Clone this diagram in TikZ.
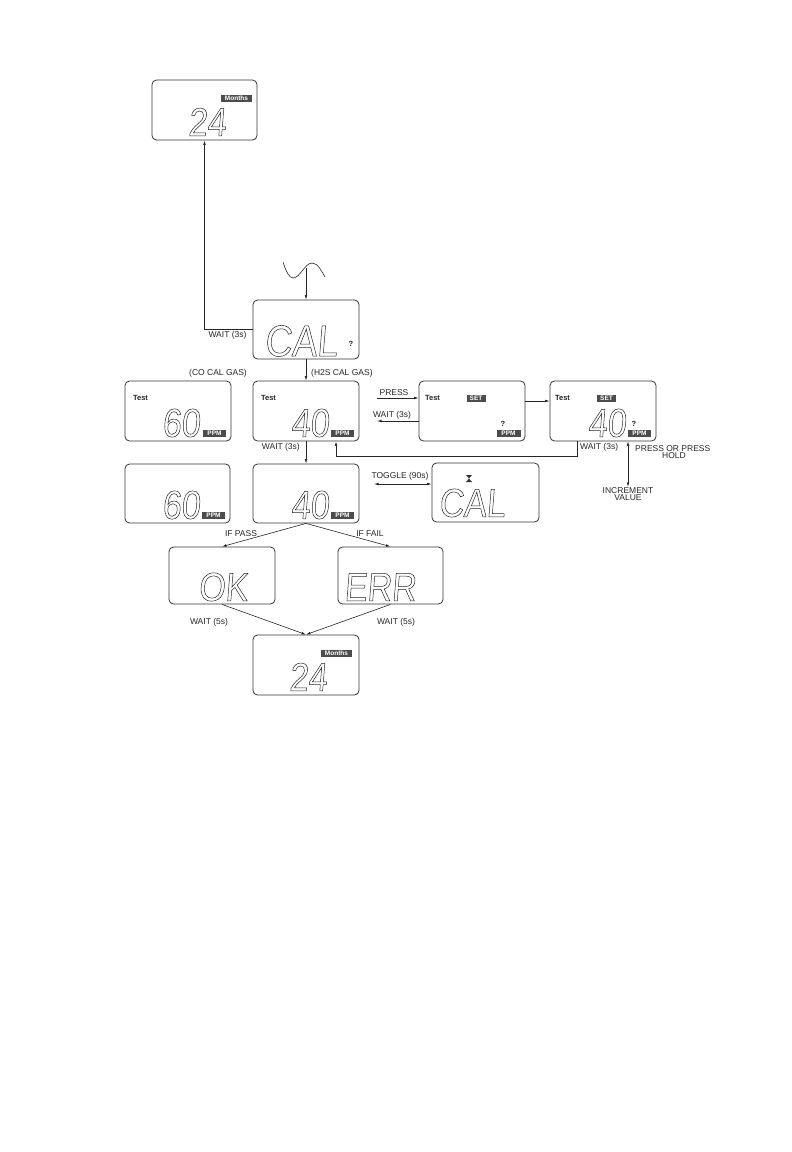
\documentclass[tikz,border=0pt]{standalone}
\usepackage{fontspec}
\setmainfont{Liberation Sans}
\newfontfamily\segfont[FakeSlant=0.08,FakeStretch=0.85]{Liberation Sans}
\usetikzlibrary{arrows.meta}
\newcommand\segout[1]{\special{pdf:literal direct 1 Tr 0.5 w}#1\special{pdf:literal direct 0 Tr}}
\begin{document}
\begin{tikzpicture}[x=1pt,y=-1pt,
  lcd/.style={draw=black!80, line width=0.8pt, rounded corners=4.5pt, inner sep=0pt, minimum width=106pt, minimum height=59pt},
  conn/.style={draw=black!85, line width=0.6pt},
  arr/.style={conn, -{Latex[length=4.5pt,width=2.6pt]}},
  darr/.style={conn, {Latex[length=4.5pt,width=2.6pt]}-{Latex[length=4.5pt,width=2.6pt]}},
  lab/.style={inner sep=0pt, text=black!85, font=\fontsize{8.5}{8}\selectfont},
  seg/.style={inner sep=0pt, text=black!85, font=\segfont\fontsize{40}{40}\selectfont},
  tag/.style={fill=black!70, text=white, inner sep=0pt, minimum height=7pt, font=\bfseries\fontsize{6.5}{6.5}\selectfont},
  tst/.style={inner sep=0pt, text=black!85, font=\bfseries\fontsize{7.5}{7.5}\selectfont},
  qm/.style={inner sep=0pt, text=black!85, font=\bfseries\fontsize{7.5}{7.5}\selectfont}]
\useasboundingbox (0,0) rectangle (792,1152);

% ---------- boxes ----------
\node[lcd, minimum width=105pt, minimum height=60pt] (top24) at (204.5,110) {};
\node[lcd] (cal)   at (306,329.5) {};
\node[lcd, minimum height=60pt] (co60)  at (178,411) {};
\node[lcd, minimum height=60pt] (h40)   at (306,411) {};
\node[lcd, minimum height=60pt] (set1)  at (472,411) {};
\node[lcd, minimum height=60pt] (set2)  at (603,411) {};
\node[lcd, minimum width=105pt] (co60b) at (177.5,493.5) {};
\node[lcd] (h40b)  at (306,493.5) {};
\node[lcd, minimum width=107pt] (calt)  at (485.5,492.5) {};
\node[lcd, minimum height=57pt] (ok)    at (222,575.5) {};
\node[lcd, minimum width=105pt, minimum height=57pt] (err) at (390.5,575.5) {};
\node[lcd, minimum height=60pt] (bot24) at (306,665) {};

% ---------- box contents ----------
\node[tag, minimum width=31pt] (mo1) at (236.5,98.5) {Months};
\node[seg] (d24a) at (207,122) {\segout{24}};

\node[seg, font=\segfont\fontsize{44}{44}\selectfont] (dcal) at (301,341) {\segout{CAL}};
\node[qm] (q1) at (351,344) {?};

\node[tst] (t1) at (140.5,398) {Test};
\node[seg] (d60a) at (181,423) {\segout{60}};
\node[tag, minimum width=23pt] (p1) at (214.5,433.5) {PPM};

\node[tst] (t2) at (268.5,398) {Test};
\node[seg] (d40a) at (310,423) {\segout{40}};
\node[tag, minimum width=23pt] (p2) at (342.5,433.5) {PPM};

\node[tst] (t3) at (432.5,398) {Test};
\node[tag, minimum width=19pt, minimum height=6.5pt] (s1) at (476,398.5) {SET};
\node[qm] (q2) at (503,424) {?};
\node[tag, minimum width=24pt] (p3) at (508.5,433.5) {PPM};

\node[tst] (t4) at (562.5,398) {Test};
\node[tag, minimum width=19pt, minimum height=6.5pt] (s2) at (606.5,398.5) {SET};
\node[seg] (d40b) at (607,423) {\segout{40}};
\node[qm] (q3) at (634,424) {?};
\node[tag, minimum width=23pt] (p4) at (639.5,433.5) {PPM};

\node[seg] (d60b) at (181,505) {\segout{60}};
\node[tag, minimum width=23pt] (p5) at (213.5,515.5) {PPM};

\node[seg] (d40c) at (310,505) {\segout{40}};
\node[tag, minimum width=23pt] (p6) at (342.5,515.5) {PPM};

\fill[black!80] (466,475) -- (472,475) -- (466,482) -- (472,482) -- cycle;
\node[seg] (dcal2) at (472,503) {\segout{CAL}};

\node[seg] (dok) at (223,587) {\segout{OK}};
\node[seg] (derr) at (380,587) {\segout{ERR}};

\node[tag, minimum width=31pt] (mo2) at (336.5,653) {Months};
\node[seg] (d24b) at (308,677) {\segout{24}};

% ---------- connectors ----------
\draw[arr] (cal.west) -| (top24.south);
\node[lab] (w1) at (227.5,335) {WAIT (3s)};

\draw[conn] (283,262) .. controls (286,271) and (289,278) .. (293,278)
  .. controls (300,278) and (305,263) .. (312,263)
  .. controls (318,263) and (322,272) .. (325,277);
\coordinate (wv) at (306,268);
\draw[arr] (wv) -- (cal.north);

\draw[arr] (cal.south) -- (h40.north);
\node[lab] (lco) at (218,373) {(CO CAL GAS)};
\node[lab, anchor=west] (lh2s) at (311,373) {(H2S CAL GAS)};

\draw[arr] (h40.south) -- (h40b.north);
\node[lab, anchor=east] (w2) at (300,447.5) {WAIT (3s)};

\coordinate (pin) at (377,398);
\draw[arr] (pin) -- (pin -| set1.west);
\node[lab] (lpress) at (394,393) {PRESS};

\coordinate (wout) at (377,421);
\draw[arr] (wout -| set1.west) -- (wout);
\node[lab] (w3) at (392,415) {WAIT (3s)};

\coordinate (ss) at (0,401);
\draw[arr] (set1.east |- ss) -- (set2.west |- ss);

\coordinate (rr) at (577,456);
\coordinate (rx) at (336,456);
\draw[arr] (set2.south -| rr) -- (rr) -- (rx) -- (rx |- h40.south);
\node[lab, anchor=north west] (w4) at (580,443.5) {WAIT (3s)};

\coordinate (ph) at (628,0);
\node[lab, align=center, font=\fontsize{8.5}{7.5}\selectfont, anchor=north] (incr) at (628,487) {INCREMENT\\VALUE};
\draw[darr] (set2.south -| ph) -- (incr.north);
\node[lab, anchor=west] (lpp) at (635,448.5) {PRESS OR PRESS};
\node[lab] (lhold) at (674,456) {HOLD};

\coordinate (tg) at (374,484);
\draw[darr] (tg) -- (tg -| calt.west);
\node[lab] (ltog) at (400,476) {TOGGLE (90s)};

\draw[arr] (h40b.south) -- (ok.north);
\draw[arr] (h40b.south) -- (err.north);
\node[lab] (lpass) at (241,534) {IF PASS};
\node[lab] (lfail) at (370,534) {IF FAIL};

\draw[arr] (ok.south) -- (bot24.north);
\draw[arr] (err.south) -- (bot24.north);
\node[lab] (w5) at (209,622) {WAIT (5s)};
\node[lab] (w6) at (396,622) {WAIT (5s)};
\end{tikzpicture}
\end{document}
